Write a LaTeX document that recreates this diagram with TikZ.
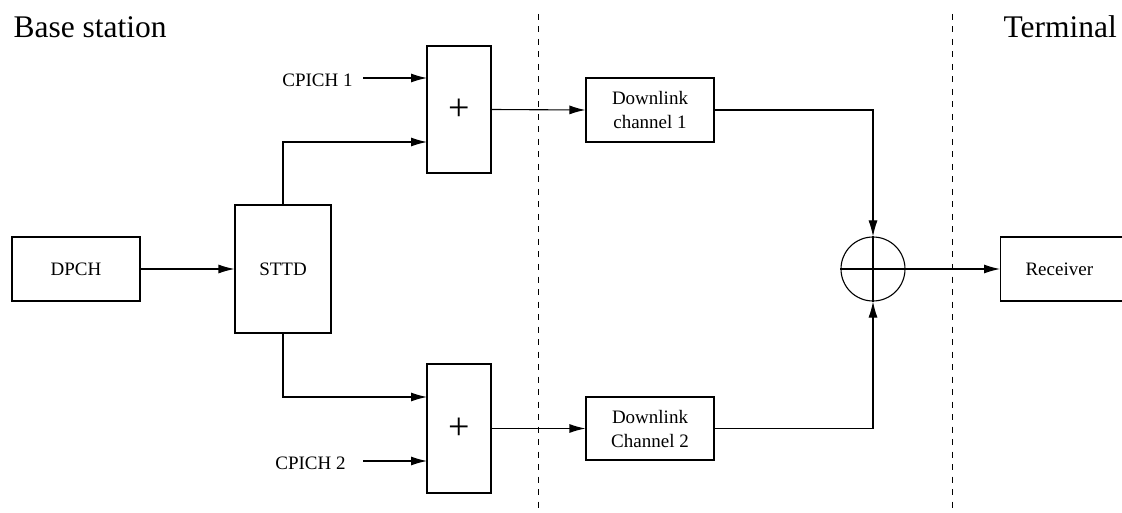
\documentclass[tikz,border=0pt]{standalone}
\usepackage{fontspec}
\setmainfont{Liberation Serif}
\newfontfamily\tmsfont{Liberation Serif}
\usetikzlibrary{arrows.meta}
\begin{document}
\begin{tikzpicture}[x=1pt,y=-1pt,
  line width=1.1pt,
  blk/.style={draw,rectangle,inner sep=0pt,font=\tmsfont\fontsize{19}{24}\selectfont,align=center},
  lbl/.style={inner sep=0pt,font=\tmsfont\fontsize{19}{24}\selectfont},
  big/.style={inner sep=0pt,font=\tmsfont\fontsize{31.5}{36}\selectfont},
  arr/.style={-{Latex[length=16pt,width=9pt]}},
  divider/.style={line width=0.9pt,dash pattern=on 6pt off 6.5pt}]
\clip (0,0) rectangle (1122,513);
\useasboundingbox (0,0) rectangle (1122,513);

% titles
\node[big,anchor=base west] (bs) at (13,38) {Base station};
\node[big,anchor=base west] (term) at (1003,38) {Terminal};

% dividers
\coordinate (d1t) at (538,14); \coordinate (d1b) at (538,513);
\coordinate (d2t) at (952,14); \coordinate (d2b) at (952,513);
\draw[divider] (d1t) -- (d1b);
\draw[divider] (d2t) -- (d2b);

% blocks
\node[blk,minimum width=128pt,minimum height=64pt] (dpch) at (76,269) {DPCH};
\node[blk,minimum width=96pt,minimum height=128pt] (sttd) at (283,269) {STTD};
\node[blk,minimum width=64pt,minimum height=127pt,font=\tmsfont\fontsize{38}{38}\selectfont] (add1) at (459,109.5) {+};
\node[blk,minimum width=64pt,minimum height=129pt,font=\tmsfont\fontsize{38}{38}\selectfont] (add2) at (459,428.5) {+};
\node[blk,minimum width=128pt,minimum height=64pt] (dl1) at (650,110) {Downlink\\channel 1};
\node[blk,minimum width=128pt,minimum height=63pt] (dl2) at (650,428.5) {Downlink\\Channel 2};
\node[draw,circle,minimum size=64pt,inner sep=0pt] (sum) at (873,269) {};
\node[blk,anchor=west,minimum height=64pt,text width=104pt,align=left,inner xsep=25pt] (rx) at (1000,269) {Receiver};

% pilot labels
\node[lbl] (cp1) at (317.5,80) {CPICH 1};
\node[lbl] (cp2) at (310.5,463) {CPICH 2};

% input points on the adders
\coordinate (a1i1) at (427,78);
\coordinate (a1i2) at (427,142);
\coordinate (a2i1) at (427,397);
\coordinate (a2i2) at (427,461);
\coordinate (cp1e) at (363,78);
\coordinate (cp2e) at (363,461);

% connectors
\draw[arr] (dpch.east) -- (sttd.west);
\draw[arr] (cp1e) -- (a1i1);
\draw[arr] (sttd.north) |- (a1i2);
\draw[arr] (sttd.south) |- (a2i1);
\draw[arr] (cp2e) -- (a2i2);
\draw[arr] (add1.east) -- (dl1.west);
\draw[arr] (add2.east) -- (dl2.west);
\draw[arr] (dl1.east) -| (sum.north);
\draw[arr] (dl2.east) -| (sum.south);
\draw (sum.west) -- (sum.east);
\draw (sum.north) -- (sum.south);
\draw[arr] (sum.east) -- (rx.west);
\end{tikzpicture}
\end{document}
